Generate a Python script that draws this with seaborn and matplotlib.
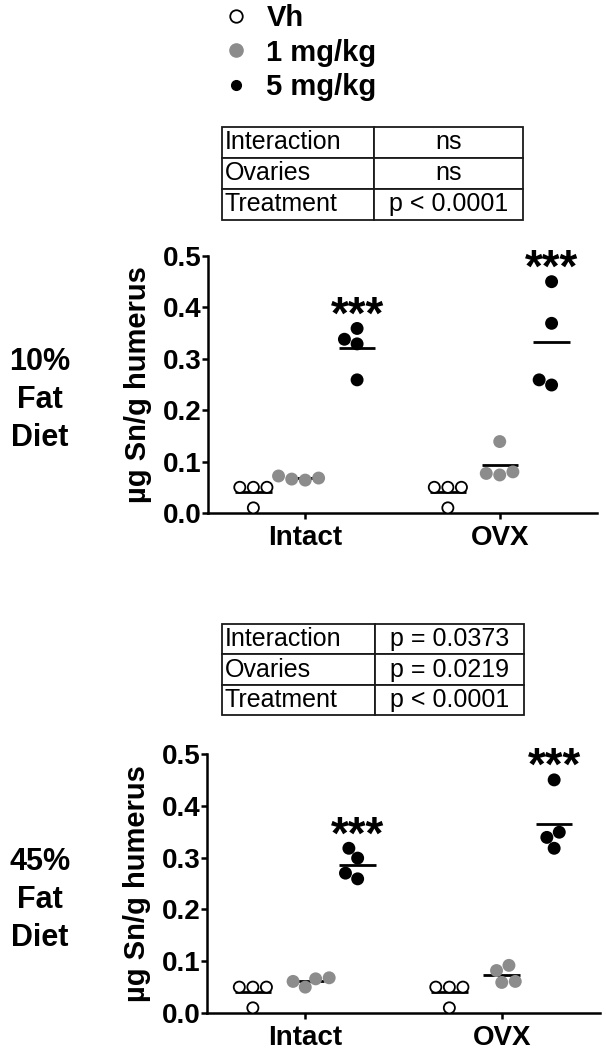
import numpy as np
import pandas as pd
import matplotlib.pyplot as plt
import seaborn as sns
from matplotlib.lines import Line2D

groups = ['Intact', 'OVX']
treatments = ['Vh', '1 mg/kg', '5 mg/kg']
colors = ['white', '#8c8c8c', 'black']

# 10% fat diet (ug Sn / g humerus)
low_intact_vh = [0.05, 0.05, 0.05, 0.01]
low_intact_1mg = [0.068, 0.072, 0.066, 0.064]
low_intact_5mg = [0.338, 0.359, 0.329, 0.259]
low_ovx_vh = [0.05, 0.05, 0.05, 0.01]
low_ovx_1mg = [0.139, 0.077, 0.080, 0.074]
low_ovx_5mg = [0.45, 0.369, 0.249, 0.259]

# 45% fat diet
high_intact_vh = [0.05, 0.05, 0.05, 0.01]
high_intact_1mg = [0.05, 0.068, 0.061, 0.066]
high_intact_5mg = [0.299, 0.318, 0.259, 0.270]
high_ovx_vh = [0.05, 0.05, 0.05, 0.01]
high_ovx_1mg = [0.059, 0.082, 0.092, 0.061]
high_ovx_5mg = [0.45, 0.349, 0.339, 0.318]

# two-way ANOVA tables
table_rows = ['Interaction', 'Ovaries', 'Treatment']
low_pvals = ['ns', 'ns', 'p < 0.0001']
high_pvals = ['p = 0.0373', 'p = 0.0219', 'p < 0.0001']

sns.set_theme(style='ticks')
plt.rcParams['font.family'] = ['Liberation Sans', 'DejaVu Sans']
for key in ['text.color', 'axes.labelcolor', 'xtick.color', 'ytick.color', 'axes.edgecolor']:
    plt.rcParams[key] = 'black'


def make_df(intact, ovx):
    rows = []
    for g, sets in zip(groups, [intact, ovx]):
        for t, vals in zip(treatments, sets):
            for v in vals:
                rows.append({'group': g, 'treatment': t, 'value': v})
    return pd.DataFrame(rows)


low_df = make_df([low_intact_vh, low_intact_1mg, low_intact_5mg],
                 [low_ovx_vh, low_ovx_1mg, low_ovx_5mg])
high_df = make_df([high_intact_vh, high_intact_1mg, high_intact_5mg],
                  [high_ovx_vh, high_ovx_1mg, high_ovx_5mg])

fig = plt.figure(figsize=(6.06, 10.56), dpi=100)


def draw_panel(ax, df):
    sns.swarmplot(data=df, x='group', y='value', hue='treatment',
                  order=groups, hue_order=treatments,
                  palette=dict(zip(treatments, colors)), dodge=True,
                  size=8, linewidth=1.3, edgecolor='black', legend=False, ax=ax)
    # only the open (vehicle) circles keep a black outline
    for coll in ax.collections:
        fc = coll.get_facecolor()
        if len(fc) and fc[0][0] < 0.9:
            coll.set_edgecolor(fc)

    # mean lines
    sns.boxplot(data=df, x='group', y='value', hue='treatment',
                order=groups, hue_order=treatments, dodge=True, gap=0.3,
                showmeans=True, meanline=True, showbox=False, showcaps=False,
                showfliers=False,
                meanprops=dict(color='black', linestyle='-', linewidth=2),
                medianprops=dict(visible=False),
                whiskerprops=dict(visible=False),
                legend=False, ax=ax)

    star_off = 0.8 / 3
    for i, g in enumerate(groups):
        top = df[(df.group == g) & (df.treatment == '5 mg/kg')].value.max()
        ax.text(i + star_off, top, '***', ha='center', va='baseline',
                fontsize=33, fontweight='bold', clip_on=False)

    ax.set_xlim(-0.5, 1.5)
    ax.set_ylim(0, 0.5)
    ax.set_yticks(np.arange(0, 0.51, 0.1))
    ax.yaxis.set_major_formatter('{x:.1f}')
    ax.set_xlabel('')
    ax.set_ylabel('µg Sn/g humerus', fontsize=21, fontweight='bold', labelpad=8)
    sns.despine(ax=ax)
    for s in ['left', 'bottom']:
        ax.spines[s].set_linewidth(1.8)
    ax.tick_params(width=1.8, length=4.5)
    ax.tick_params(axis='y', labelsize=20, pad=0)
    ax.tick_params(axis='x', labelsize=20, pad=4)
    for lbl in ax.get_xticklabels() + ax.get_yticklabels():
        lbl.set_fontweight('bold')


def draw_table(rect, pvals):
    tax = fig.add_axes(rect)
    tax.axis('off')
    tbl = tax.table(cellText=[[r, p] for r, p in zip(table_rows, pvals)],
                    colWidths=[0.505, 0.495], bbox=[0, 0, 1, 1], cellLoc='center')
    tbl.auto_set_font_size(False)
    for (r, c), cell in tbl.get_celld().items():
        cell.set_linewidth(1.3)
        cell.get_text().set_fontsize(18)
        if c == 0:
            cell._loc = 'left'
            cell.get_text().set_horizontalalignment('left')
            cell.PAD = 0.02


ax1 = fig.add_axes([0.3432, 0.5142, 0.6419, 0.2434])
draw_panel(ax1, low_df)
ax2 = fig.add_axes([0.3416, 0.0407, 0.6485, 0.2453])
draw_panel(ax2, high_df)

draw_table([0.366, 0.7917, 0.497, 0.0881], low_pvals)
draw_table([0.366, 0.3229, 0.499, 0.0862], high_pvals)

handles = [
    Line2D([], [], ls='none', marker='o', ms=9, mfc='white', mec='black', mew=1.3),
    Line2D([], [], ls='none', marker='o', ms=9.5, mfc=colors[1], mec=colors[1]),
    Line2D([], [], ls='none', marker='o', ms=7, mfc='black', mec='black'),
]
fig.legend(handles, treatments, loc='upper left', bbox_to_anchor=(0.365, 0.996),
           frameon=False, prop=dict(weight='bold', size=21), handlelength=1,
           handletextpad=0.55, labelspacing=0.22, borderpad=0, borderaxespad=0)

fig.text(0.066, 0.621, '10%\nFat\nDiet', ha='center', va='center',
         fontsize=22, fontweight='bold', linespacing=1.35)
fig.text(0.066, 0.148, '45%\nFat\nDiet', ha='center', va='center',
         fontsize=22, fontweight='bold', linespacing=1.35)

fig.savefig('out.png', dpi=100)
